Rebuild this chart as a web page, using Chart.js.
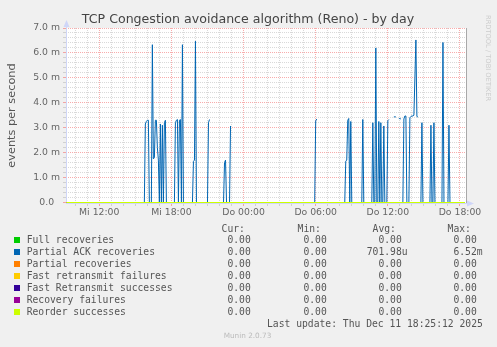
<!DOCTYPE html>
<html>
<head>
<meta charset="utf-8">
<script src="https://cdn.jsdelivr.net/npm/chart.js@4/dist/chart.umd.min.js"></script>
<style>
  html, body { margin: 0; padding: 0; background: #f0f0f0; }
  #wrap { position: relative; width: 497px; height: 347px; overflow: hidden; font-family: 'DejaVu Sans', sans-serif; }
  #c { position: absolute; left: 0; top: 0; }
  .t { position: absolute; white-space: pre; line-height: 1; }
  .mono { font-family: 'DejaVu Sans Mono', monospace; font-size: 9.7px; color: #555; }
  .box { position: absolute; width: 6px; height: 6px; }
</style>
</head>
<body>
<div id="wrap">
  <canvas id="c" width="497" height="347"></canvas>
  <div class="t" style="left:0;width:496px;text-align:center;top:13px;font-size:12.6px;color:#444;">TCP Congestion avoidance algorithm (Reno) - by day</div>
  <div class="t" style="left:484px;top:15px;font-size:6.7px;color:#cccccc;writing-mode:vertical-rl;">RRDTOOL / TOBI OETIKER</div>
  <div id="legend"></div>
  <div class="t" style="left:0;width:495px;text-align:center;top:332px;font-size:7.3px;color:#bbb;">Munin 2.0.73</div>
</div>
<script>
// Time is in minutes since Wednesday 00:00; values are in milli-events per second.
const viewStart = 554;   // Mi 09:14
const viewEnd = 2550;    // Do 18:30
const dayNames = ['Mi', 'Do'];

// Partial ACK recoveries, [minute, value] samples (null = no data)
const partialAck = [
  [555, 0], [945, 0], [950, 3.15], [955, 3.25], [960, 3.3], [965, 3.3], [970, 0], [980, 0],
  [985, 6.33], [990, 1.75], [995, 1.8], [1000, 3.3], [1005, 3.3], [1010, 2.2], [1015, 1.7],
  [1020, 0], [1025, 3.15], [1030, 0], [1035, 3.1], [1040, 0], [1045, 3.2], [1050, 3.3], [1055, 0],
  [1095, 0], [1100, 3.2], [1105, 3.3], [1110, 3.33], [1115, 0], [1120, 3.3], [1125, 3.33],
  [1130, 0], [1135, 6.33], [1140, 0],
  [1185, 0], [1190, 1.65], [1195, 1.7], [1200, 6.47], [1205, 0],
  [1260, 0], [1265, 3.2], [1270, 3.33], [1275, null], [1280, 0],
  [1340, 0], [1345, 1.6], [1350, 1.7], [1355, 0],
  [1370, 0], [1375, 3.07], [1380, null], [1385, 0],
  [1795, 0], [1800, 3.27], [1805, 3.35], [1810, null], [1815, 0],
  [1945, 0], [1950, 1.66], [1955, 1.7], [1960, 3.3], [1965, 3.37], [1970, 0], [1975, 3.25], [1980, 0],
  [2030, 0], [2035, 3.33], [2040, 0],
  [2080, 0], [2085, 3.2], [2090, 0], [2095, 0], [2100, 6.2], [2105, 0], [2110, 0], [2115, 3.25],
  [2120, 0], [2125, 3.2], [2130, 0], [2135, 0], [2140, 3.07], [2145, 0], [2155, 0], [2160, 3.28],
  [2165, 3.33], [2170, null],
  [2190, 3.43], [2195, 3.44], [2200, 3.43], [2205, null],
  [2215, 3.36], [2220, 3.37], [2225, 3.35], [2230, null],
  [2235, 0], [2240, 3.35], [2245, 3.47], [2250, 3.47], [2255, 0], [2265, 0], [2270, 3.4],
  [2275, 3.45], [2280, 3.47], [2285, 3.47], [2290, 3.5], [2295, 5.0], [2300, 6.52], [2305, 3.45],
  [2310, 3.43], [2315, null],
  [2325, 0], [2330, 3.2], [2335, 0],
  [2370, 0], [2375, 3.1], [2380, 0], [2385, 0], [2390, 3.2], [2395, 0],
  [2430, 0], [2435, 6.42], [2440, 0],
  [2460, 0], [2465, 3.1], [2470, 0], [2545, 0]
];

// The other counters stayed at zero for the whole day
const fullRecoveries = [[555, 0], [2545, 0]];
const partialRecoveries = [[555, 0], [2545, 0]];
const fastRetransFailures = [[555, 0], [2545, 0]];
const fastRetransSuccesses = [[555, 0], [2545, 0]];
const recoveryFailures = [[555, 0], [2545, 0]];
const reorderSuccesses = [[555, 0], [2545, 0]];

const seriesNames = ['Full recoveries', 'Partial ACK recoveries', 'Partial recoveries',
  'Fast retransmit failures', 'Fast Retransmit successes', 'Recovery failures', 'Reorder successes'];
const seriesColors = ['#00CC00', '#0066B3', '#FF8000', '#FFCC00', '#330099', '#990099', '#CCFF00'];
const seriesData = [fullRecoveries, partialAck, partialRecoveries, fastRetransFailures,
  fastRetransSuccesses, recoveryFailures, reorderSuccesses];

const curVals = ['0.00', '0.00', '0.00', '0.00', '0.00', '0.00', '0.00'];
const minVals = ['0.00', '0.00', '0.00', '0.00', '0.00', '0.00', '0.00'];
const avgVals = ['0.00', '701.98u', '0.00', '0.00', '0.00', '0.00', '0.00'];
const maxVals = ['0.00', '6.52m', '0.00', '0.00', '0.00', '0.00', '0.00'];
const lastUpdate = 'Last update: Thu Dec 11 18:25:12 2025';

// Grid: a line every hour / every 0.2 m, emphasised every 6 hours / every 1.0 m
const hourTicks = [];
for (let m = 600; m <= 2520; m += 60) hourTicks.push(m);
const valueTicks = [];
for (let i = 0; i <= 35; i++) valueTicks.push(i / 5);

const majorGrid = 'rgba(240, 70, 70, 0.45)';
const minorGrid = 'rgba(165, 165, 165, 0.42)';
const isMajorHour = v => v % 360 === 0;
const isMajorValue = v => Math.abs(v - Math.round(v)) < 1e-6;

const frame = {
  id: 'frame',
  beforeDraw(chart) {
    const { ctx, chartArea: a } = chart;
    ctx.save();
    ctx.fillStyle = '#ffffff';
    ctx.fillRect(a.left, a.top, a.right - a.left, a.bottom - a.top);
    ctx.restore();
  },
  beforeDatasetsDraw(chart) {
    const { ctx, chartArea: a } = chart;
    ctx.save();
    ctx.strokeStyle = '#a8a8a8';
    ctx.lineWidth = 1;
    ctx.beginPath();
    ctx.moveTo(a.right + 0.5, a.top);
    ctx.lineTo(a.right + 0.5, a.bottom);
    ctx.stroke();
    ctx.strokeStyle = '#CFD6F8';
    ctx.beginPath();
    ctx.moveTo(a.left + 0.5, a.bottom + 1);
    ctx.lineTo(a.left + 0.5, a.top - 5);
    ctx.moveTo(a.left, a.bottom + 0.5);
    ctx.lineTo(a.right + 4, a.bottom + 0.5);
    ctx.stroke();
    ctx.restore();
  },
  afterDraw(chart) {
    const { ctx, chartArea: a } = chart;
    ctx.save();
    ctx.fillStyle = '#CFD6F8';
    ctx.beginPath();
    ctx.moveTo(a.left + 0.5, a.top - 8);
    ctx.lineTo(a.left - 2.5, a.top - 1);
    ctx.lineTo(a.left + 3.5, a.top - 1);
    ctx.closePath();
    ctx.fill();
    ctx.beginPath();
    ctx.moveTo(a.right + 8, a.bottom + 0.5);
    ctx.lineTo(a.right + 1, a.bottom - 2.5);
    ctx.lineTo(a.right + 1, a.bottom + 3.5);
    ctx.closePath();
    ctx.fill();
    ctx.restore();
  }
};

const axisFont = { family: 'DejaVu Sans', size: 9.3 };

new Chart(document.getElementById('c'), {
  type: 'line',
  data: {
    datasets: seriesData.map((pts, i) => ({
      label: seriesNames[i],
      data: pts.map(p => ({ x: p[0], y: p[1] })),
      borderColor: seriesColors[i],
      backgroundColor: seriesColors[i],
      borderWidth: 1,
      pointRadius: 0,
      tension: 0,
      fill: false,
      spanGaps: false,
      order: seriesNames.length - 1 - i
    }))
  },
  options: {
    responsive: false,
    devicePixelRatio: 1,
    animation: false,
    events: [],
    layout: { padding: { left: 0, top: 28, right: 31, bottom: 124 } },
    plugins: { legend: { display: false }, tooltip: { enabled: false }, title: { display: false } },
    scales: {
      x: {
        type: 'linear',
        min: viewStart,
        max: viewEnd,
        afterBuildTicks: s => { s.ticks = hourTicks.map(v => ({ value: v })); },
        afterFit: s => { s.height = 20; },
        ticks: {
          autoSkip: false,
          maxRotation: 0,
          padding: 1,
          font: axisFont,
          color: '#666',
          callback: v => {
            if (!isMajorHour(v)) return '';
            const day = dayNames[Math.floor(v / 1440)];
            const hh = String(Math.floor((v % 1440) / 60)).padStart(2, '0');
            return day + ' ' + hh + ':00';
          }
        },
        grid: {
          color: c => (c.tick && isMajorHour(c.tick.value)) ? majorGrid : minorGrid,
          tickColor: c => (c.tick && isMajorHour(c.tick.value)) ? majorGrid : minorGrid,
          tickLength: 3,
          lineWidth: 1
        },
        border: { display: false, dash: [1, 1] }
      },
      y: {
        type: 'linear',
        // a hair below zero so the zero line falls on a whole pixel row
        min: -0.02,
        max: 7,
        afterBuildTicks: s => { s.ticks = valueTicks.map(v => ({ value: v })); },
        afterFit: s => { s.width = 66; },
        ticks: {
          autoSkip: false,
          padding: 3,
          font: axisFont,
          color: '#666',
          callback: v => {
            if (!isMajorValue(v)) return '';
            return v === 0 ? '0.0  ' : v.toFixed(1) + ' m';
          }
        },
        grid: {
          color: c => (c.tick && isMajorValue(c.tick.value)) ? majorGrid : minorGrid,
          tickColor: c => (c.tick && isMajorValue(c.tick.value)) ? majorGrid : minorGrid,
          tickLength: 3,
          lineWidth: 1
        },
        border: { display: false, dash: [1, 1] },
        title: {
          display: true,
          text: 'events per second',
          font: { family: 'DejaVu Sans', size: 11.3 },
          color: '#555',
          padding: { top: 5, bottom: 0 }
        }
      }
    }
  },
  plugins: [frame]
});

// Legend table underneath the plot
const legend = document.getElementById('legend');
const rowCenter = i => 240 + i * 11.94;
function addText(txt, css) {
  const d = document.createElement('div');
  d.className = 't mono';
  d.textContent = txt;
  d.style.cssText += css;
  legend.appendChild(d);
}
const colRight = [256.6, 332.6, 407.6, 482.6];
const heads = ['Cur:', 'Min:', 'Avg:', 'Max:'];
heads.forEach((h, k) => addText(h + '  ', `right:${497 - colRight[k]}px;top:${228.3 - 4.7}px;`));
seriesNames.forEach((name, i) => {
  const y = rowCenter(i);
  const b = document.createElement('div');
  b.className = 'box';
  b.style.left = '14px';
  b.style.top = (y - 3) + 'px';
  b.style.background = seriesColors[i];
  legend.appendChild(b);
  addText(name, `left:26.7px;top:${y - 4.7}px;`);
  [curVals, minVals, avgVals, maxVals].forEach((arr, k) => {
    const v = arr[i];
    const txt = /[a-z]$/i.test(v) ? v : v + ' ';
    addText(txt, `right:${497 - colRight[k]}px;top:${y - 4.7}px;`);
  });
});
addText(lastUpdate, `right:${497 - 482.8}px;top:${rowCenter(7) - 4.7}px;`);
</script>
</body>
</html>
